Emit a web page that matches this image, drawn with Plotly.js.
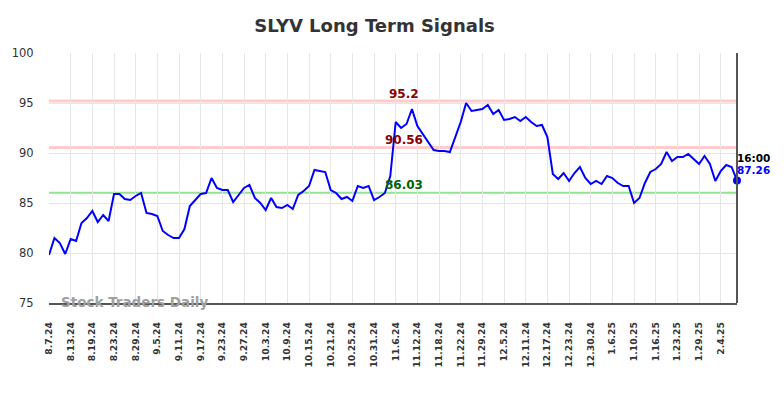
<!DOCTYPE html>
<html>
<head>
<meta charset="utf-8">
<script src="https://cdn.plot.ly/plotly-3.0.1.min.js"></script>
<style>html,body{margin:0;padding:0;background:#fff;}#chart{width:784px;height:398px;}</style>
</head>
<body>
<div id="chart"></div>
<script>
const dates = ["8.7.24","8.8.24","8.9.24","8.12.24","8.13.24","8.14.24","8.15.24","8.16.24","8.19.24","8.20.24","8.21.24","8.22.24","8.23.24","8.26.24","8.27.24","8.28.24","8.29.24","8.30.24","9.3.24","9.4.24","9.5.24","9.6.24","9.9.24","9.10.24","9.11.24","9.12.24","9.13.24","9.16.24","9.17.24","9.18.24","9.19.24","9.20.24","9.23.24","9.24.24","9.25.24","9.26.24","9.27.24","9.30.24","10.1.24","10.2.24","10.3.24","10.4.24","10.7.24","10.8.24","10.9.24","10.10.24","10.11.24","10.14.24","10.15.24","10.16.24","10.17.24","10.18.24","10.21.24","10.22.24","10.23.24","10.24.24","10.25.24","10.28.24","10.29.24","10.30.24","10.31.24","11.1.24","11.4.24","11.5.24","11.6.24","11.7.24","11.8.24","11.11.24","11.12.24","11.13.24","11.14.24","11.15.24","11.18.24","11.19.24","11.20.24","11.21.24","11.22.24","11.25.24","11.26.24","11.27.24","11.29.24","12.2.24","12.3.24","12.4.24","12.5.24","12.6.24","12.9.24","12.10.24","12.11.24","12.12.24","12.13.24","12.16.24","12.17.24","12.18.24","12.19.24","12.20.24","12.23.24","12.24.24","12.26.24","12.27.24","12.30.24","12.31.24","1.2.25","1.3.25","1.6.25","1.7.25","1.8.25","1.9.25","1.10.25","1.13.25","1.14.25","1.15.25","1.16.25","1.17.25","1.21.25","1.22.25","1.23.25","1.24.25","1.27.25","1.28.25","1.29.25","1.30.25","1.31.25","2.3.25","2.4.25","2.5.25","2.6.25","2.7.25"];

const prices = [79.8,81.5,81.0,79.9,81.4,81.2,83.0,83.5,84.2,83.1,83.8,83.2,85.9,85.9,85.4,85.3,85.7,86.0,84.0,83.9,83.7,82.2,81.8,81.5,81.5,82.4,84.7,85.3,85.9,86.0,87.5,86.5,86.3,86.3,85.1,85.8,86.5,86.8,85.5,85.0,84.3,85.5,84.6,84.5,84.8,84.4,85.8,86.2,86.7,88.3,88.2,88.1,86.3,86.0,85.4,85.6,85.2,86.7,86.5,86.7,85.3,85.6,86.0,87.7,93.1,92.5,92.9,94.4,92.7,91.9,91.0,90.3,90.2,90.2,90.1,91.5,93.1,95.0,94.2,94.3,94.4,94.8,93.9,94.3,93.3,93.4,93.6,93.2,93.6,93.1,92.7,92.8,91.6,87.9,87.4,88.0,87.2,88.0,88.6,87.5,86.9,87.2,86.9,87.7,87.5,87.0,86.7,86.7,85.0,85.5,87.0,88.1,88.4,88.9,90.1,89.2,89.6,89.6,89.9,89.4,88.9,89.7,88.9,87.2,88.2,88.8,88.6,87.26];

const tickLabels = ["8.7.24","8.13.24","8.19.24","8.23.24","8.29.24","9.5.24","9.11.24","9.17.24","9.23.24","9.27.24","10.3.24","10.9.24","10.15.24","10.21.24","10.25.24","10.31.24","11.6.24","11.12.24","11.18.24","11.22.24","11.29.24","12.5.24","12.11.24","12.17.24","12.23.24","12.30.24","1.6.25","1.10.25","1.16.25","1.23.25","1.29.25","2.4.25"];

const yTicks = [75,80,85,90,95,100];
const upperLevel = 95.2;
const middleLevel = 90.56;
const lowerLevel = 86.03;
const lastTime = "16:00";

const lastIdx = prices.length - 1;
const lastDate = dates[lastIdx];
const lastPrice = prices[lastIdx];

const traces = [
  {x: dates, y: prices, type: 'scatter', mode: 'lines', line: {color: '#0000ff', width: 2}, hoverinfo: 'skip'},
  {x: [lastDate], y: [lastPrice], type: 'scatter', mode: 'markers', marker: {color: '#0000ff', size: 8}, hoverinfo: 'skip', cliponaxis: false}
];

function hline(v, color, w) {
  return {type: 'line', xref: 'paper', x0: 0, x1: 1, yref: 'y', y0: v, y1: v, line: {color: color, width: w}, layer: 'below'};
}

const levelFont = (c) => ({family: 'DejaVu Sans', size: 12, color: c, weight: 'bold'});
const levelX = 65.5;

const layout = {
  width: 784, height: 398,
  margin: {l: 49, r: 47, t: 53, b: 95},
  paper_bgcolor: '#fff', plot_bgcolor: '#fff',
  showlegend: false,
  title: {text: 'SLYV Long Term Signals', x: 0.4777, xanchor: 'center', y: 0.935, yanchor: 'middle',
          font: {family: 'DejaVu Sans', size: 18, color: '#333', weight: 'bold'}},
  xaxis: {type: 'category', categoryorder: 'array', categoryarray: dates, range: [0, lastIdx],
          tickmode: 'array', tickvals: tickLabels, ticktext: tickLabels, tickangle: -90,
          tickfont: {family: 'DejaVu Sans', size: 9.2, color: '#333', weight: 'bold'},
          showgrid: true, gridcolor: '#e6e6e6', gridwidth: 1,
          showline: true, linecolor: '#555', linewidth: 1.5, zeroline: false,
          ticks: 'outside', ticklen: 14, tickcolor: 'rgba(0,0,0,0)'},
  yaxis: {range: [75, 100], tickmode: 'array', tickvals: yTicks, ticktext: yTicks.map(String),
          tickfont: {family: 'DejaVu Sans', size: 11.5, color: '#333'},
          showgrid: true, gridcolor: '#e6e6e6', gridwidth: 1, zeroline: false, showline: false,
          ticks: 'outside', ticklen: 12, tickcolor: 'rgba(0,0,0,0)'},
  shapes: [
    hline(upperLevel, 'rgba(255,160,160,0.55)', 3),
    hline(middleLevel, 'rgba(255,160,160,0.55)', 3),
    hline(lowerLevel, 'rgba(120,220,120,0.8)', 2),
    {type: 'line', xref: 'paper', x0: 1, x1: 1, yref: 'paper', y0: 0, y1: 1, line: {color: '#555', width: 2}}
  ],
  annotations: [
    {x: levelX, xref: 'x', y: upperLevel, yref: 'y', yanchor: 'middle', yshift: 7, text: String(upperLevel), showarrow: false, font: levelFont('#8b0000')},
    {x: levelX, xref: 'x', y: middleLevel, yref: 'y', yanchor: 'middle', yshift: 7, text: String(middleLevel), showarrow: false, font: levelFont('#8b0000')},
    {x: levelX, xref: 'x', y: lowerLevel, yref: 'y', yanchor: 'middle', yshift: 8, text: String(lowerLevel), showarrow: false, font: levelFont('#006400')},
    {x: 1, xref: 'paper', xanchor: 'left', xshift: -2, y: 89.5, yref: 'y', text: lastTime, showarrow: false,
     font: {family: 'DejaVu Sans', size: 10.5, color: '#000', weight: 'bold'}},
    {x: 1, xref: 'paper', xanchor: 'left', xshift: -2, y: 88.3, yref: 'y', text: String(lastPrice), showarrow: false,
     font: {family: 'DejaVu Sans', size: 10.5, color: '#0000ff', weight: 'bold'}},
    {x: 0.124, xref: 'paper', xanchor: 'center', y: 75, yref: 'y', yanchor: 'middle', yshift: 1, text: 'Stock Traders Daily', showarrow: false,
     font: {family: 'DejaVu Sans', size: 13.5, color: '#a0a0a0', weight: 'bold'}}
  ]
};

Plotly.newPlot('chart', traces, layout, {displayModeBar: false, staticPlot: true});
</script>
</body>
</html>
